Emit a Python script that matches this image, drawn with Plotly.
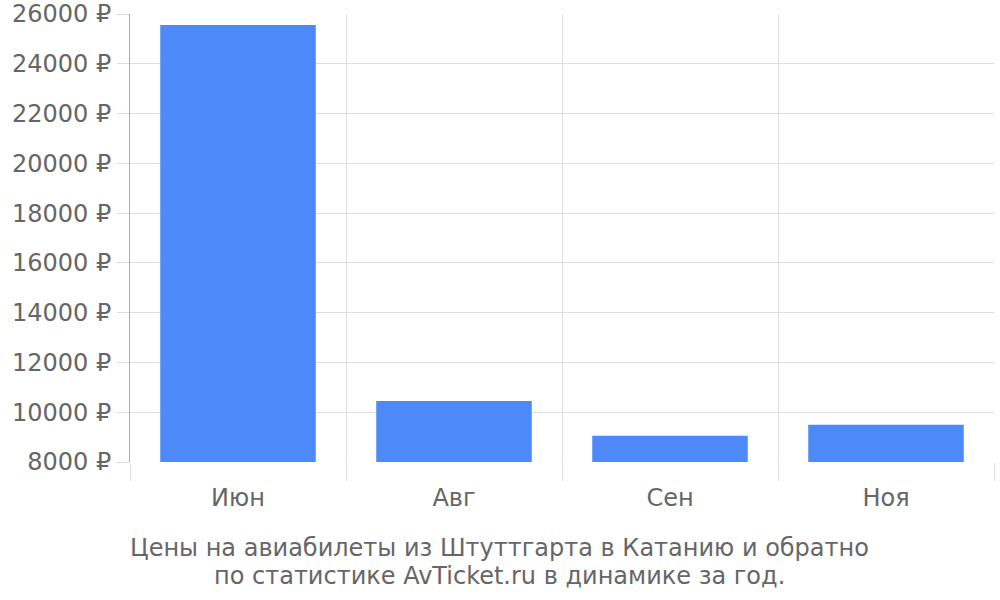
import plotly.graph_objects as go

months = ["Июн", "Авг", "Сен", "Ноя"]
prices = [25560, 10450, 9050, 9500]
y_ticks = list(range(8000, 26001, 2000))
y_labels = [f"{v} ₽" for v in y_ticks]
title_lines = ["Цены на авиабилеты из Штуттгарта в Катанию и обратно",
               "по статистике AvTicket.ru в динамике за год."]

fig = go.Figure(go.Bar(x=months, y=prices, marker_color="#4d89f9",
                       marker_line_width=0))

fig.update_layout(
    width=1000, height=600,
    margin=dict(l=130, r=6, t=14, b=138, autoexpand=False),
    paper_bgcolor="white", plot_bgcolor="white",
    bargap=0.28, showlegend=False,
    font=dict(family="DejaVu Sans", color="#666666", size=24),
)
fig.update_xaxes(
    type="category", tickson="boundaries", ticks="outside", ticklen=18,
    tickcolor="#dddddd", showgrid=True, gridcolor="#dddddd", gridwidth=1,
    showline=False, automargin=False, ticklabelstandoff=19,
    tickfont=dict(size=24, color="#666666"),
)
fig.update_yaxes(
    range=[8000, 26000], tickvals=y_ticks, ticktext=y_labels,
    ticks="outside", ticklen=12, tickcolor="#dddddd", automargin=False,
    showgrid=True, gridcolor="#dddddd", showline=True, linecolor="#aaaaaa",
    zeroline=False, ticklabelstandoff=1, ticklabeloverflow="allow",
    tickfont=dict(size=24, color="#666666"),
)
for line, ypos in zip(title_lines, [-0.192, -0.2545]):
    fig.add_annotation(
        text=line, xref="paper", yref="paper",
        x=0.428, y=ypos, xanchor="center", yanchor="middle", showarrow=False,
        font=dict(size=24, color="#666666"), align="center",
    )
fig.write_html("out.html", config={"displayModeBar": False},
               post_script="document.body.style.margin='0px';")
